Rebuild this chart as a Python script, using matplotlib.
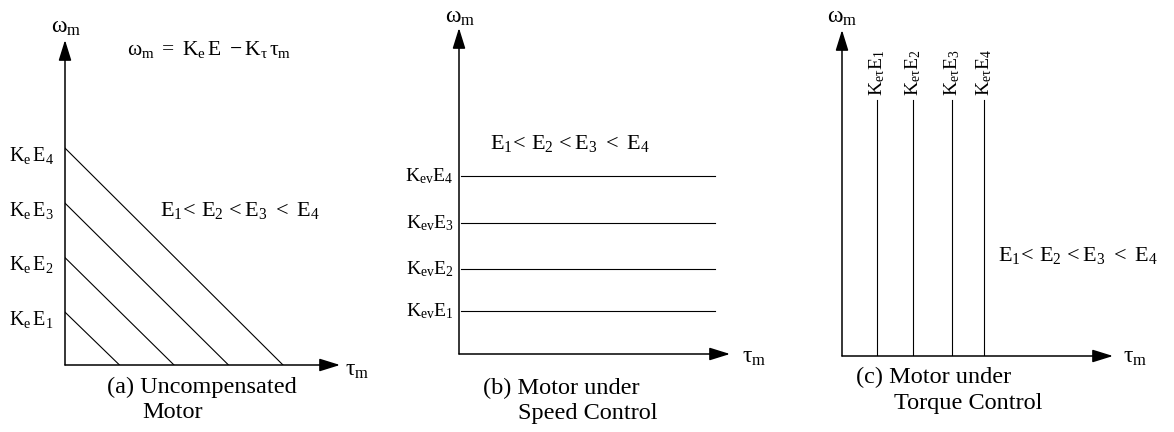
import matplotlib
matplotlib.use("Agg")
import matplotlib.pyplot as plt

plt.rcParams["font.family"] = ["Liberation Serif", "DejaVu Serif"]
plt.rcParams["mathtext.fontset"] = "custom"
plt.rcParams["mathtext.rm"] = "Liberation Serif"
plt.rcParams["mathtext.it"] = "Liberation Serif:italic"
plt.rcParams["mathtext.default"] = "regular"

W, H = 1174, 432

# (a) uncompensated: speed intercepts K_e*E_i and torque intercepts
a_speed = [0.97, 1.97, 2.97, 3.98]
a_torque = [1.0, 2.0, 3.0, 4.0]
a_labels = [r"$K_e\,E_1$", r"$K_e\,E_2$", r"$K_e\,E_3$", r"$K_e\,E_4$"]

# (b) speed control: constant speed levels
b_levels = [0.98, 1.93, 2.98, 4.05]
b_labels = [r"$K_{ev}E_1$", r"$K_{ev}E_2$", r"$K_{ev}E_3$", r"$K_{ev}E_4$"]

# (c) torque control: constant torque levels
c_levels = [0.97, 1.97, 3.06, 3.94]
c_labels = [r"$K_{e\tau}E_1$", r"$K_{e\tau}E_2$", r"$K_{e\tau}E_3$", r"$K_{e\tau}E_4$"]

order_text = r"$E_1\!<\,E_2\,<E_3\ <\ E_4$"


def fx(x):
    return x / W


def fy(y):
    return 1 - y / H


def make_axes(fig, x0, y0, xtip, ytop, unit):
    """Axes whose lower-left corner is the origin of the sketch (pixel coords)"""
    ax = fig.add_axes([fx(x0), fy(y0), (xtip - x0) / W, (y0 - ytop) / H])
    xmax = (xtip - x0) / unit
    ymax = (y0 - ytop) / unit
    ax.set_xlim(0, xmax)
    ax.set_ylim(0, ymax)
    ax.axis("off")
    arrow = dict(arrowstyle="-|>,head_length=0.9,head_width=0.28", color="black",
                 lw=1.1, shrinkA=0, shrinkB=0, mutation_scale=14)
    ax.annotate("", xy=(xmax, 0), xytext=(0, 0), arrowprops=arrow, annotation_clip=False)
    ax.annotate("", xy=(0, ymax), xytext=(0, 0), arrowprops=arrow, annotation_clip=False)
    return ax


fig = plt.figure(figsize=(W / 100, H / 100), dpi=100)

# ---- (a) Uncompensated motor ----
ax = make_axes(fig, 65, 365, 340, 40, 54.5)
for s, t, lab in zip(a_speed, a_torque, a_labels):
    ax.plot([0, t], [s, 0], color="black", lw=0.8)
    ax.annotate(lab, xy=(0, s), xytext=(-8, -5), textcoords="offset points",
                ha="right", va="center", fontsize=14.5, annotation_clip=False)
fig.text(fx(66), fy(28), r"$\omega_m$", ha="center", va="center", fontsize=17)
fig.text(fx(345), fy(370), r"$\tau_m$", ha="left", va="center", fontsize=17)
fig.text(fx(127), fy(50), r"$\omega_m\ =\ K_e\,E\ -K_\tau\,\tau_m$", ha="left", va="center", fontsize=15.5)
fig.text(fx(160), fy(210), order_text, ha="left", va="center", fontsize=16)
fig.text(fx(107), fy(387), "(a) Uncompensated", ha="left", va="center", fontsize=17.5)
fig.text(fx(142), fy(413), "Motor", ha="left", va="center", fontsize=17.5)

# ---- (b) Speed control ----
ax = make_axes(fig, 459, 354, 730, 28, 44.0)
for lvl, lab in zip(b_levels, b_labels):
    ax.plot([0.05, 5.82], [lvl, lvl], color="black", lw=0.8)
    ax.annotate(lab, xy=(0, lvl), xytext=(-4, 0), textcoords="offset points",
                ha="right", va="center", fontsize=14, annotation_clip=False)
fig.text(fx(460), fy(18), r"$\omega_m$", ha="center", va="center", fontsize=17)
fig.text(fx(742), fy(358), r"$\tau_m$", ha="left", va="center", fontsize=17)
fig.text(fx(490), fy(143), order_text, ha="left", va="center", fontsize=16)
fig.text(fx(483), fy(388), "(b) Motor under", ha="left", va="center", fontsize=17.5)
fig.text(fx(518), fy(414), "Speed Control", ha="left", va="center", fontsize=17.5)

# ---- (c) Torque control ----
ax = make_axes(fig, 842, 356, 1113, 30, 36.0)
for lvl, lab in zip(c_levels, c_labels):
    ax.plot([lvl, lvl], [0, 7.1], color="black", lw=0.8)
    ax.annotate(lab, xy=(lvl, 7.1), xytext=(0, 3), textcoords="offset points",
                ha="center", va="bottom", rotation=90, fontsize=14, annotation_clip=False)
fig.text(fx(842), fy(18), r"$\omega_m$", ha="center", va="center", fontsize=17)
fig.text(fx(1123), fy(358), r"$\tau_m$", ha="left", va="center", fontsize=17)
fig.text(fx(998), fy(255), order_text, ha="left", va="center", fontsize=16)
fig.text(fx(856), fy(377), "(c) Motor under", ha="left", va="center", fontsize=17.5)
fig.text(fx(894), fy(403), "Torque Control", ha="left", va="center", fontsize=17.5)

fig.savefig("out.png", dpi=100)
